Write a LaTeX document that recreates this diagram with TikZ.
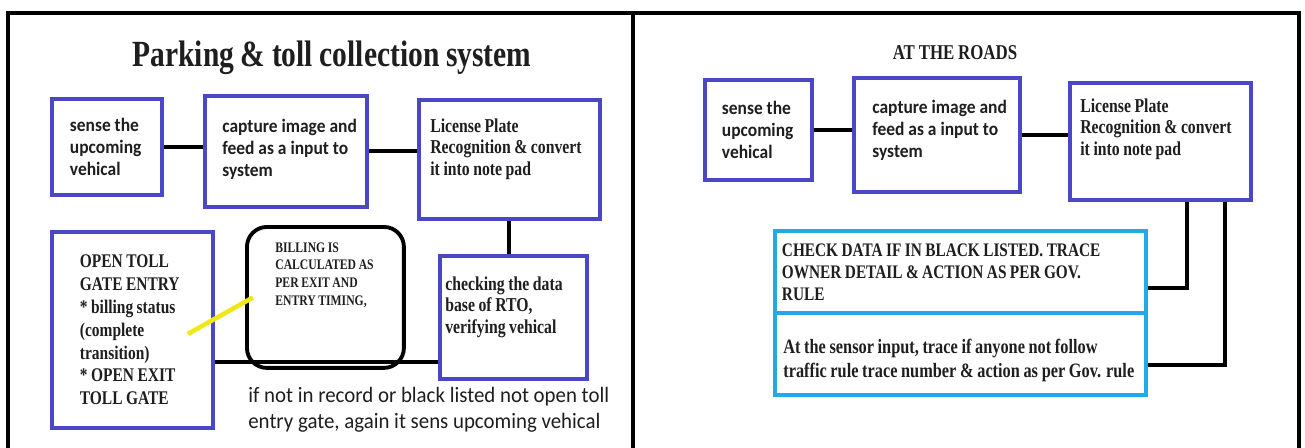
\documentclass[tikz,border=0pt]{standalone}
\usepackage{fontspec}
\usepackage{tikz}
\setmainfont{Liberation Serif}
\newfontfamily\serifc[FakeStretch=0.8,WordSpace=0.9]{Liberation Serif}
\newfontfamily\sansc[FakeStretch=0.92]{Carlito}
\newfontfamily\sansn[FakeStretch=0.95]{Carlito}
\definecolor{boxblue}{RGB}{75,72,200}
\definecolor{boxcyan}{RGB}{35,170,228}
\definecolor{linkyellow}{RGB}{240,232,20}
\definecolor{ink}{RGB}{30,30,30}
\tikzset{
  frame/.style={line width=2.3pt,line cap=rect},
  wire/.style={line width=2.2pt},
  basebox/.style={anchor=north west,align=flush left,inner xsep=0pt,inner ysep=2pt,text=ink},
  bluebox/.style={basebox,draw=boxblue,line width=2.2pt},
  cyanbox/.style={basebox,draw=boxcyan,line width=2.2pt},
  roundbox/.style={basebox,draw=black,line width=2.2pt,rounded corners=0.4cm},
  boxtext/.style={anchor=north west,align=flush left,inner sep=0pt,text=ink},
  sanstext/.style={font=\sansc\bfseries\fontsize{10.8}{12.5}\selectfont},
  seriftext/.style={font=\serifc\bfseries\fontsize{11.2}{12.5}\selectfont},
}

\begin{document}
\begin{tikzpicture}[x=0.02cm,y=-0.02cm]
  % --- Cadre et bornes de l'image ---
  \useasboundingbox (0,0) rectangle (1305,447);
  \draw[frame] (8,447) -- (8,13) -- (1299,13) -- (1299,447);
  \draw[frame] (633,13) -- (633,447);

  % --- Panneau gauche : péage ---
  \node[font=\serifc\bfseries\fontsize{21}{24}\selectfont,text=ink] (titre) at (332,58)
    {Parking \& toll collection system};

  \node[bluebox,sanstext,minimum width=2.2cm,minimum height=1.92cm,text width=1.48cm]
    (capteur) at (50,97) {sense the\\upcoming\\vehical};
  \node[bluebox,minimum width=3.24cm,minimum height=2.22cm] (camera) at (203,94) {};
  \node[boxtext,sanstext] (cameraT) at ([shift={(19,25)}]camera.north west)
    {capture image and\\feed as a input to\\system};
  \node[bluebox,minimum width=3.62cm,minimum height=2.38cm] (plaque) at (417,98) {};
  \node[boxtext,seriftext] (plaqueT) at ([shift={(13,20)}]plaque.north west)
    {License Plate\\Recognition \& convert\\it into note pad};

  \node[bluebox,font=\serifc\bfseries\fontsize{11}{13}\selectfont,
        minimum width=3.22cm,minimum height=3.92cm,text width=2.1cm]
    (barriere) at (50,230) {OPEN TOLL\\GATE ENTRY\\{*} billing status\\(complete\\transition)\\{*} OPEN EXIT\\TOLL GATE};
  \node[roundbox,minimum width=3.14cm,minimum height=2.82cm] (facture) at (245,225) {};
  \node[boxtext,font=\serifc\bfseries\fontsize{8.3}{10.2}\selectfont] (factureT)
    at ([shift={(30,17)}]facture.north west) {BILLING IS\\CALCULATED AS\\PER EXIT AND\\ENTRY TIMING,};
  \node[bluebox,minimum width=2.94cm,minimum height=2.46cm] (rto) at (438,254) {};
  \node[boxtext,seriftext] (rtoT) at ([shift={(7,22)}]rto.north west)
    {checking the data\\base of RTO,\\verifying vehical};

  \node[boxtext,font=\sansn\fontsize{12.5}{14.5}\selectfont]
    (remarque) at (248,387) {if not in record or black listed not open toll\\entry gate, again it sens upcoming vehical};

  % liaisons
  \draw[wire] (capteur.east) -- (capteur.east -| camera.west);
  \draw[wire] (camera.east) -- (camera.east -| plaque.west);
  \draw[wire] (plaque.south) -- (plaque.south |- rto.north);
  \coordinate (retour) at ([yshift=0.38cm]rto.south west);
  \draw[wire] (retour) -- (retour -| barriere.east);
  \draw[linkyellow,line width=2.6pt] ([shift={(-27,4)}]barriere.east) -- ([shift={(8,0)}]facture.west);

  % --- Panneau droit : sur les routes ---
  \node[font=\serifc\bfseries\fontsize{12}{14}\selectfont,text=ink] (routes) at (955,53) {AT THE ROADS};

  \node[bluebox,sanstext,minimum width=2.14cm,minimum height=2.0cm,text width=1.46cm]
    (capteurR) at (703,78) {sense the\\upcoming\\vehical};
  \node[bluebox,minimum width=3.32cm,minimum height=2.28cm] (cameraR) at (852,76) {};
  \node[boxtext,sanstext] (cameraRT) at ([shift={(20,24)}]cameraR.north west)
    {capture image and\\feed as a input to\\system};
  \node[bluebox,minimum width=3.62cm,minimum height=2.34cm] (plaqueR) at (1068,81) {};
  \node[boxtext,seriftext] (plaqueRT) at ([shift={(12,17)}]plaqueR.north west)
    {License Plate\\Recognition \& convert\\it into note pad};

  \node[cyanbox,font=\serifc\bfseries\fontsize{10.9}{12.5}\selectfont,
        minimum width=7.42cm,minimum height=1.64cm,text width=7.14cm]
    (listenoire) at (773,229) {CHECK DATA IF IN BLACK LISTED. TRACE\\OWNER DETAIL \& ACTION AS PER GOV.\\RULE};
  \node[cyanbox,minimum width=7.42cm,minimum height=1.64cm] (trafic) at (773,311) {};
  \node[boxtext,font=\serifc\bfseries\fontsize{11.6}{13.5}\selectfont] (traficT)
    at ([shift={(10,28)}]trafic.north west)
    {At the sensor input, trace if anyone not follow\\traffic rule trace number \& action as per Gov. rule};

  % liaisons
  \draw[wire] (capteurR.east) -- (capteurR.east -| cameraR.west);
  \draw[wire] (cameraR.east) -- (cameraR.east -| plaqueR.west);
  \draw[wire] ([xshift=0.53cm]plaqueR.south) |- ([yshift=-0.32cm]listenoire.east);
  \draw[wire] ([xshift=1.29cm]plaqueR.south) |- ([yshift=-0.22cm]trafic.east);
\end{tikzpicture}
\end{document}
